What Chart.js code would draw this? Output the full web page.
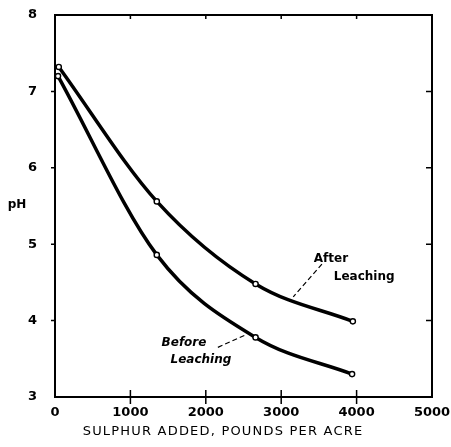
<!DOCTYPE html>
<html>
<head>
<meta charset="utf-8">
<script src="https://cdn.jsdelivr.net/npm/chart.js@4"></script>
<style>
  html, body { margin: 0; padding: 0; background: #fff; }
  #wrap { width: 451px; height: 447px; }
</style>
</head>
<body>
<div id="wrap"><canvas id="chart" width="451" height="447"></canvas></div>
<script>
// sulphur added (lb per acre) and pH readings
const sulphurAfter = [50, 1350, 2660, 3950];
const phAfter = [7.32, 5.56, 4.48, 3.99];
const sulphurBefore = [40, 1350, 2660, 3940];
const phBefore = [7.20, 4.86, 3.78, 3.30];
const xTicks = [0, 1000, 2000, 3000, 4000, 5000];
const yTicks = [3, 4, 5, 6, 7, 8];

const FONT = "'DejaVu Sans', 'Liberation Sans', sans-serif";

function toPoints(xs, ys) {
  return xs.map((x, i) => ({ x: x, y: ys[i] }));
}

// frame, tick marks, axis titles and curve labels
const framePlugin = {
  id: 'frame',
  afterDraw(chart) {
    const ctx = chart.ctx;
    const a = chart.chartArea;
    const xs = chart.scales.x, ys = chart.scales.y;
    ctx.save();
    ctx.strokeStyle = '#000';
    ctx.lineWidth = 2;
    ctx.strokeRect(a.left, a.top, a.right - a.left, a.bottom - a.top);
    ctx.lineWidth = 1.5;
    ctx.beginPath();
    xTicks.slice(1, -1).forEach(v => {
      const px = xs.getPixelForValue(v);
      ctx.moveTo(px, a.bottom - 7); ctx.lineTo(px, a.bottom + 7);
      ctx.moveTo(px, a.top); ctx.lineTo(px, a.top + 4);
    });
    yTicks.slice(1, -1).forEach(v => {
      const py = ys.getPixelForValue(v);
      ctx.moveTo(a.right, py); ctx.lineTo(a.right - 6, py);
      ctx.moveTo(a.left, py); ctx.lineTo(a.left - 4, py);
    });
    ctx.stroke();

    ctx.fillStyle = '#000';
    ctx.textAlign = 'center';
    ctx.textBaseline = 'middle';
    ctx.font = 'bold 12px ' + FONT;
    ctx.fillText('pH', 17, 205);

    ctx.font = '13px ' + FONT;
    ctx.letterSpacing = '1.2px';
    ctx.fillText('SULPHUR ADDED, POUNDS PER ACRE', 223, 432);
    ctx.letterSpacing = '0px';

    // labels with dashed leaders
    const label = (txt, x, y) => ctx.fillText(txt, xs.getPixelForValue(x), ys.getPixelForValue(y));
    ctx.font = 'bold 12px ' + FONT;
    label('After', 3660, 4.81);
    label('Leaching', 4100, 4.57);
    ctx.font = 'italic bold 12px ' + FONT;
    label('Before', 1711, 3.71);
    label('Leaching', 1936, 3.48);
    ctx.setLineDash([5, 3]);
    ctx.lineWidth = 1.2;
    ctx.beginPath();
    ctx.moveTo(xs.getPixelForValue(3540), ys.getPixelForValue(4.74));
    ctx.lineTo(xs.getPixelForValue(3160), ys.getPixelForValue(4.31));
    ctx.moveTo(xs.getPixelForValue(2160), ys.getPixelForValue(3.65));
    ctx.lineTo(xs.getPixelForValue(2520), ys.getPixelForValue(3.81));
    ctx.stroke();
    ctx.restore();
  }
};

const lineStyle = {
  showLine: true,
  borderColor: '#000',
  borderWidth: 3.5,
  cubicInterpolationMode: 'monotone',
  pointRadius: 2.6,
  pointBorderWidth: 1.4,
  pointBackgroundColor: '#fff',
  pointBorderColor: '#000'
};

new Chart(document.getElementById('chart').getContext('2d'), {
  type: 'scatter',
  data: {
    datasets: [
      Object.assign({ label: 'After Leaching', data: toPoints(sulphurAfter, phAfter) }, lineStyle),
      Object.assign({ label: 'Before Leaching', data: toPoints(sulphurBefore, phBefore) }, lineStyle)
    ]
  },
  options: {
    responsive: false,
    animation: false,
    layout: { padding: { top: 15, right: 19, left: 0, bottom: 0 } },
    plugins: {
      legend: { display: false },
      tooltip: { enabled: false }
    },
    scales: {
      x: {
        type: 'linear',
        min: 0,
        max: 5000,
        afterBuildTicks: s => { s.ticks = xTicks.map(v => ({ value: v })); },
        afterFit: s => { s.height = 50; s.paddingLeft = 0; s.paddingRight = 0; },
        grid: { display: false, drawTicks: false },
        border: { display: false },
        ticks: {
          color: '#000',
          padding: 8,
          callback: v => String(v),
          font: { family: FONT, size: 13, weight: 'bold' }
        }
      },
      y: {
        min: 3,
        max: 8,
        afterBuildTicks: s => { s.ticks = yTicks.map(v => ({ value: v })); },
        afterFit: s => { s.width = 55; s.paddingTop = 0; s.paddingBottom = 0; },
        grid: { display: false, drawTicks: false },
        border: { display: false },
        ticks: {
          color: '#000',
          padding: 18,
          callback: v => String(v),
          font: { family: FONT, size: 13, weight: 'bold' }
        }
      }
    }
  },
  plugins: [framePlugin]
});
</script>
</body>
</html>
